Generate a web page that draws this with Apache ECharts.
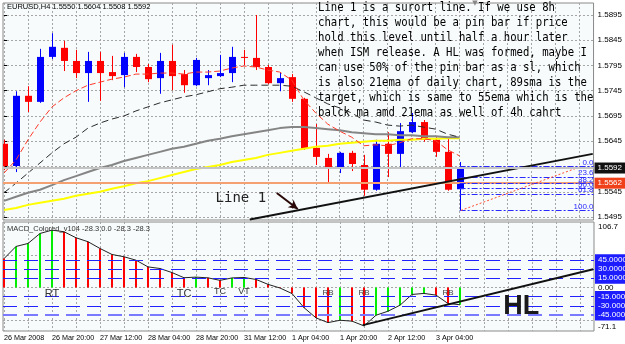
<!DOCTYPE html>
<html><head><meta charset="utf-8">
<script src="https://cdn.jsdelivr.net/npm/echarts@6/dist/echarts.min.js"></script>
<style>html,body{margin:0;padding:0;background:#fff}#c{width:625px;height:344px}</style>
</head><body><div id="c"></div>
<script>
// ---------- DATA ----------
const symbol = 'EURUSD,H4';
const timeLabels = ['26 Mar 2008','26 Mar 20:00','27 Mar 12:00','28 Mar 04:00','28 Mar 20:00','31 Mar 12:00','1 Apr 04:00','1 Apr 20:00','2 Apr 12:00','3 Apr 04:00'];
const opens  = [1.5640,1.5596,1.5735,1.5723,1.5812,1.5830,1.5804,1.5780,1.5804,1.5782,1.5776,1.5812,1.5792,1.5770,1.5804,1.5778,1.5756,1.5770,1.5774,1.5780,1.5812,1.5810,1.5792,1.5760,1.5772,1.5729,1.5632,1.5612,1.5594,1.5622,1.5598,1.5549,1.5640,1.5620,1.5663,1.5683,1.5648,1.5624,1.5550];
const closes = [1.5596,1.5735,1.5723,1.5812,1.5832,1.5804,1.5780,1.5804,1.5780,1.5774,1.5812,1.5792,1.5768,1.5804,1.5774,1.5756,1.5806,1.5776,1.5780,1.5812,1.5810,1.5792,1.5760,1.5770,1.5729,1.5630,1.5614,1.5594,1.5622,1.5600,1.5549,1.5640,1.5620,1.5665,1.5683,1.5648,1.5624,1.5549,1.5592];
const highs  = [1.5648,1.5744,1.5754,1.5828,1.5859,1.5844,1.5826,1.5822,1.5822,1.5814,1.5820,1.5818,1.5798,1.5820,1.5836,1.5786,1.5810,1.5786,1.5816,1.5832,1.5826,1.5895,1.5796,1.5782,1.5778,1.5731,1.5679,1.5620,1.5624,1.5626,1.5618,1.5648,1.5663,1.5681,1.5701,1.5687,1.5653,1.5653,1.5604];
const lows   = [1.5588,1.5584,1.5703,1.5721,1.5808,1.5784,1.5770,1.5723,1.5725,1.5766,1.5752,1.5782,1.5762,1.5739,1.5746,1.5741,1.5754,1.5756,1.5772,1.5762,1.5796,1.5786,1.5758,1.5744,1.5723,1.5628,1.5598,1.5562,1.5582,1.5586,1.5537,1.5547,1.5574,1.5594,1.5661,1.5644,1.5614,1.5547,1.5508];
const emaFast = [1.5582,1.5608,1.5648,1.5683,1.5713,1.5731,1.5745,1.5756,1.5762,1.5768,1.5772,1.5778,1.5778,1.5780,1.5780,1.5778,1.5782,1.5782,1.5784,1.5790,1.5794,1.5792,1.5786,1.5782,1.5766,1.5727,1.5701,1.5679,1.5665,1.5653,1.5636,1.5638,1.5636,1.5642,1.5650,1.5650,1.5646,1.5628,1.5616];
const ema21 = [1.5543,1.5562,1.5582,1.5602,1.5622,1.5640,1.5653,1.5671,1.5681,1.5689,1.5695,1.5705,1.5713,1.5721,1.5727,1.5733,1.5737,1.5743,1.5749,1.5752,1.5756,1.5756,1.5756,1.5756,1.5754,1.5743,1.5731,1.5719,1.5711,1.5701,1.5687,1.5683,1.5677,1.5675,1.5677,1.5673,1.5669,1.5659,1.5653];
const maGray = [1.5527,1.5535,1.5543,1.5549,1.5558,1.5568,1.5576,1.5584,1.5592,1.5598,1.5606,1.5612,1.5618,1.5624,1.5630,1.5634,1.5640,1.5646,1.5650,1.5655,1.5659,1.5663,1.5667,1.5671,1.5673,1.5673,1.5671,1.5669,1.5667,1.5663,1.5661,1.5659,1.5659,1.5657,1.5657,1.5655,1.5655,1.5653,1.5653];
const maYellow = [1.5509,1.5513,1.5519,1.5523,1.5527,1.5531,1.5537,1.5541,1.5545,1.5551,1.5556,1.5562,1.5566,1.5572,1.5578,1.5584,1.5590,1.5594,1.5598,1.5604,1.5608,1.5612,1.5618,1.5622,1.5626,1.5630,1.5634,1.5636,1.5640,1.5642,1.5644,1.5646,1.5646,1.5648,1.5648,1.5650,1.5650,1.5651,1.5651];
const macd = [47,66.8,71.7,88,93.4,90.8,81,74.5,63.5,53.7,50,44.4,33.5,30.8,24.2,15.8,16.8,15.6,11.5,15.5,16.2,13,5,-1,-10,-33,-49.7,-57.4,-53.6,-55,-62.8,-45.4,-38.8,-29,-11.5,-9.8,-12.6,-26.2,-28.3];
const macdUp = [0,1,1,1,1,0,0,0,0,0,0,0,0,0,0,0,1,0,0,1,1,0,0,0,0,0,0,0,1,0,0,1,1,1,1,1,0,0,1];
const priceTickLabels = [1.5495,1.5545,1.5645,1.5695,1.5745,1.5795,1.5845,1.5895];
const priceGridLevels = [1.5495,1.5545,1.5595,1.5645,1.5695,1.5745,1.5795,1.5845,1.5895];
const macdLevels = [45,30,15,-15,-30,-45];
const macdScaleLabels = [106.7,0,-71.1];
const bidPrice = 1.5592;
const alertPrice = 1.5562;
const fibNames = ['0.0','23.6','38.2','50.0','61.8','100.0'];
const fibPrices = [1.5595,1.5574,1.5561,1.5551,1.5541,1.5508];
const fibStartBar = 38;
const line1 = [[20.5,1.5490],[49.1,1.5620]];
const line1Arrow = [[22.75,1.55425],[24.5,1.55109]];
const fibTrend = [[38.1,1.5508],[48,1.5594]];
const macdTrend = [[29.9,-61.5],[49.1,29.5]];
const noteLines = ['Line 1 is a surort line. If we use 8h','chart, this would be a pin bar if price','hold this level until half a hour later','when ISM release. A HL was formed, maybe I','can use 50% of the pin bar as a sl, which','is also 21ema of daily chart, 89sma is the','target, which is same to 55ema which is the','balck ma amd 21ema as well of 4h cahrt'];

// ---------- CHART ----------
const xMin = -1/12, xMax = 590/12;
const yMin = 1.548906, yMax = 1.591876;
const gridBars = []; for (let b = 0; b <= 48; b += 2) gridBars.push(b);
const timeLabelBars = timeLabels.map((_, k) => k * 4);
const dotted = {color:'#a6a6a6', type:[2,2], width:1};
const last = opens.length - 1;
const boxLabel = (text, bg) => ({show:true, position:'end', distance:1, formatter:text, backgroundColor:bg, color:'#fff',
  fontSize:8, padding:[2,3,1,3], fontFamily:'Liberation Sans'});

function renderCandle(params, api) {
  const i = api.value(0), o = api.value(1), c = api.value(2), l = api.value(3), h = api.value(4);
  const pO = api.coord([i,o]), pC = api.coord([i,c]), pL = api.coord([i,l]), pH = api.coord([i,h]);
  const x = Math.round(pO[0]);
  const color = c > o ? '#0000ff' : '#ff0000';
  const top = Math.min(pO[1], pC[1]), bot = Math.max(pO[1], pC[1]);
  return {type:'group', children:[
    {type:'line', shape:{x1:x+0.5,y1:pH[1],x2:x+0.5,y2:pL[1]}, style:{stroke:color,lineWidth:1}},
    {type:'rect', shape:{x:x-3,y:top,width:7,height:Math.max(1,bot-top)}, style:{fill:color}}
  ]};
}
function renderHist(params, api) {
  const i = api.value(0), v = api.value(1), up = api.value(2);
  const p0 = api.coord([i,0]), p1 = api.coord([i,v]);
  const x = Math.round(p0[0]);
  return {type:'rect', shape:{x:x-1,y:Math.min(p0[1],p1[1]),width:2,height:Math.abs(p1[1]-p0[1])}, style:{fill: up ? '#00ee00' : '#ff0000'}};
}
const seg = (a, b, lineStyle, extraEnd) => [
  {coord:a, symbol:'none', lineStyle, label:{show:false}},
  Object.assign({coord:b, symbol:'none', lineStyle, label:{show:false}}, extraEnd || {})
];
const bidMark = {
  silent:true, symbol:['none','none'], animation:false,
  data:[[
    {coord:[xMin,bidPrice], lineStyle:{color:'#c4c4c4',width:2,type:'solid'}, label:boxLabel(bidPrice.toFixed(4),'#111')},
    {coord:[xMax,bidPrice], lineStyle:{color:'#c4c4c4',width:2,type:'solid'}, label:boxLabel(bidPrice.toFixed(4),'#111')}
  ]]
};
const mainMark = {
  silent:true, symbol:['none','none'], animation:false,
  data:[[
    {coord:[xMin,alertPrice], lineStyle:{color:'#f5a070',width:2,type:'solid'}, label:boxLabel(alertPrice.toFixed(4),'#f0401a')},
    {coord:[xMax,alertPrice], lineStyle:{color:'#f5a070',width:2,type:'solid'}, label:boxLabel(alertPrice.toFixed(4),'#f0401a')}
  ]].concat(fibPrices.map((p,k) => {
    const ls = {color:'#2a2aff',width:1,type:[6,2,2,2]};
    const lb = {show:true,position:'insideEndTop',distance:0,formatter:fibNames[k],color:'#2a2aff',fontSize:8,fontFamily:'Liberation Sans'};
    return [{coord:[fibStartBar,p], lineStyle:ls, label:lb}, {coord:[xMax,p], lineStyle:ls, label:lb}];
  })).concat([
    seg(line1[0], line1[1], {color:'#111',width:2,type:'solid'}),
    seg(fibTrend[0], fibTrend[1], {color:'#ff5030',width:1,type:[2,2]}),
    seg(line1Arrow[0], line1Arrow[1], {color:'#2a0808',width:2,type:'solid'}, {symbol:'arrow', symbolSize:[7,9], itemStyle:{color:'#2a0808'}})
  ])
};
const macdMark = {
  silent:true, symbol:['none','none'], animation:false,
  data: macdLevels.map(v => {
    const ls = {color: v === -45 ? '#7a7aff' : '#2222ff', width: v === -45 ? 2 : 1, type:[14,7]};
    const lb = boxLabel(v.toFixed(4), '#1c1cff');
    return [{coord:[xMin,v], lineStyle:ls, label:lb}, {coord:[xMax,v], lineStyle:ls, label:lb}];
  }).concat([seg(macdTrend[0], macdTrend[1], {color:'#111',width:2,type:'solid'})])
};
const lineSeries = (data, color, width, type, z, extra) => Object.assign({
  type:'line', xAxisIndex:0, yAxisIndex:0, data:data.map((v,i)=>[i,v]), symbol:'none', silent:true,
  lineStyle:{color, width, type}, z
}, extra || {});

const option = {
  animation:false,
  grid:[
    {left:3, top:3, width:591, height:217, show:true, borderColor:'#8a8a8a', borderWidth:1, backgroundColor:'#f7fbfb'},
    {left:3, top:222, width:591, height:109, show:true, borderColor:'#8a8a8a', borderWidth:1, backgroundColor:'#f7fbfb'}
  ],
  xAxis:[
    {type:'value', gridIndex:0, min:xMin, max:xMax, axisLine:{show:false}, axisTick:{show:false, customValues:gridBars}, axisLabel:{show:false}, splitLine:{show:true, lineStyle:dotted}},
    {type:'value', gridIndex:1, min:xMin, max:xMax, axisLine:{show:false}, axisTick:{show:false, customValues:gridBars},
      axisLabel:{customValues:timeLabelBars, formatter:v => timeLabels[timeLabelBars.indexOf(Math.round(v))] || '', align:'left', fontSize:7.2, color:'#000', margin:4, fontFamily:'Liberation Sans'},
      splitLine:{show:true, lineStyle:dotted}}
  ],
  yAxis:[
    {type:'value', gridIndex:0, position:'right', min:yMin, max:yMax, axisLine:{show:false},
      axisTick:{show:true, length:3, customValues:priceGridLevels, lineStyle:{color:'#000'}},
      axisLabel:{customValues:priceTickLabels, formatter:v => v.toFixed(4), fontSize:8, color:'#000', margin:4, fontFamily:'Liberation Sans'},
      splitLine:{show:true, lineStyle:dotted}},
    {type:'value', gridIndex:1, position:'right', min:-71.1, max:106.7, axisLine:{show:false},
      axisTick:{show:false, customValues:[53,0,-53]},
      axisLabel:{customValues:macdScaleLabels, margin:4,
        formatter:v => v > 100 ? '{t|' + v.toFixed(1) + '}' : (v < -70 ? '{b|' + v.toFixed(1) + '}' : '{m|' + v.toFixed(2) + '}'),
        rich:{t:{padding:[9,0,0,0],fontSize:8,color:'#000',fontFamily:'Liberation Sans'}, b:{padding:[0,0,9,0],fontSize:8,color:'#000',fontFamily:'Liberation Sans'}, m:{fontSize:8,color:'#000',fontFamily:'Liberation Sans'}}},
      splitLine:{show:true, lineStyle:dotted}}
  ],
  series:[
    {type:'custom', name:'candles', xAxisIndex:0, yAxisIndex:0, renderItem:renderCandle, clip:true, silent:true, z:2,
      encode:{x:0, y:[1,2,3,4]}, data: opens.map((o,i)=>[i,o,closes[i],lows[i],highs[i]])},
    lineSeries(maYellow, '#ffff00', 2, 'solid', 3, {markLine: mainMark}),
    lineSeries(maGray, '#858585', 2, 'solid', 3, {markLine: bidMark}),
    lineSeries(ema21, '#2b2b2b', 1, [7,4], 4),
    lineSeries(emaFast, '#ff3a2a', 1, [6,3], 4),
    {type:'custom', name:'hist', xAxisIndex:1, yAxisIndex:1, renderItem:renderHist, clip:true, silent:true, z:2,
      encode:{x:0, y:1}, data: macd.map((v,i)=>[i,v,macdUp[i]])},
    {type:'line', xAxisIndex:1, yAxisIndex:1, data: macd.map((v,i)=>[i,v]), symbol:'none', silent:true, z:4,
      lineStyle:{color:'#222', width:1}, markLine: macdMark}
  ]
};
const chart = echarts.init(document.getElementById('c'));
chart.setOption(option);

// ---------- ANNOTATIONS ----------
const notes = [
  {text:'RT', g:1, at:[4,-10], size:11, color:'#333'},
  {text:'TC', g:1, at:[15,-10], size:11, color:'#333'},
  {text:'TC', g:1, at:[18,-7], size:9, color:'#333'},
  {text:'VT', g:1, at:[20,-7], size:9, color:'#333'},
  {text:'RB', g:1, at:[27,-8.5], size:8, color:'#444'},
  {text:'RB', g:1, at:[30,-8.5], size:8, color:'#444'},
  {text:'RB', g:1, at:[37,-8.5], size:8, color:'#444'},
  {text:'HL', g:1, at:[43.1,-31.5], size:27, color:'#1a1a1a', weight:'bold'},
  {text:'Line 1', g:0, at:[19.75,1.55327], size:14, color:'#222', family:'DejaVu Sans Mono'}
];
const graphics = notes.map(n => {
  const p = chart.convertToPixel({xAxisIndex:n.g, yAxisIndex:n.g}, n.at);
  return {type:'text', x:p[0], y:p[1], silent:true, z:50, style:{text:n.text, fontSize:n.size, fill:n.color,
    fontFamily:n.family || 'Liberation Sans', fontWeight:n.weight || 'normal', align:'center', verticalAlign:'middle'}};
});
graphics.push(
  {type:'text', x:7, y:7, z:50, silent:true, style:{text:symbol + ' ' + [opens[last],highs[last],lows[last],closes[last]].map(v=>v.toFixed(4)).join(' '),
    fontSize:7.5, fill:'#000', fontFamily:'Liberation Sans', verticalAlign:'middle'}},
  {type:'text', x:7, y:229, z:50, silent:true, style:{text:'MACD_Colored_v104 ' + macd[last].toFixed(1) + ' 0.0 ' + macd[last].toFixed(1) + ' ' + macd[last].toFixed(1),
    fontSize:7.5, fill:'#333', fontFamily:'Liberation Sans', verticalAlign:'middle'}},
  {type:'text', x:318, y:1, z:50, silent:true, scaleX:0.925, style:{text:noteLines.join('\n'), fontSize:11.5, lineHeight:14.9,
    fill:'#000', fontFamily:'DejaVu Sans Mono', verticalAlign:'top'}},
  {type:'text', x:475, y:3.5, z:50, silent:true, style:{text:'▼', fontSize:7, fill:'#888', align:'center', verticalAlign:'middle', fontFamily:'DejaVu Sans'}}
);
chart.setOption({graphic: graphics});
</script></body></html>
